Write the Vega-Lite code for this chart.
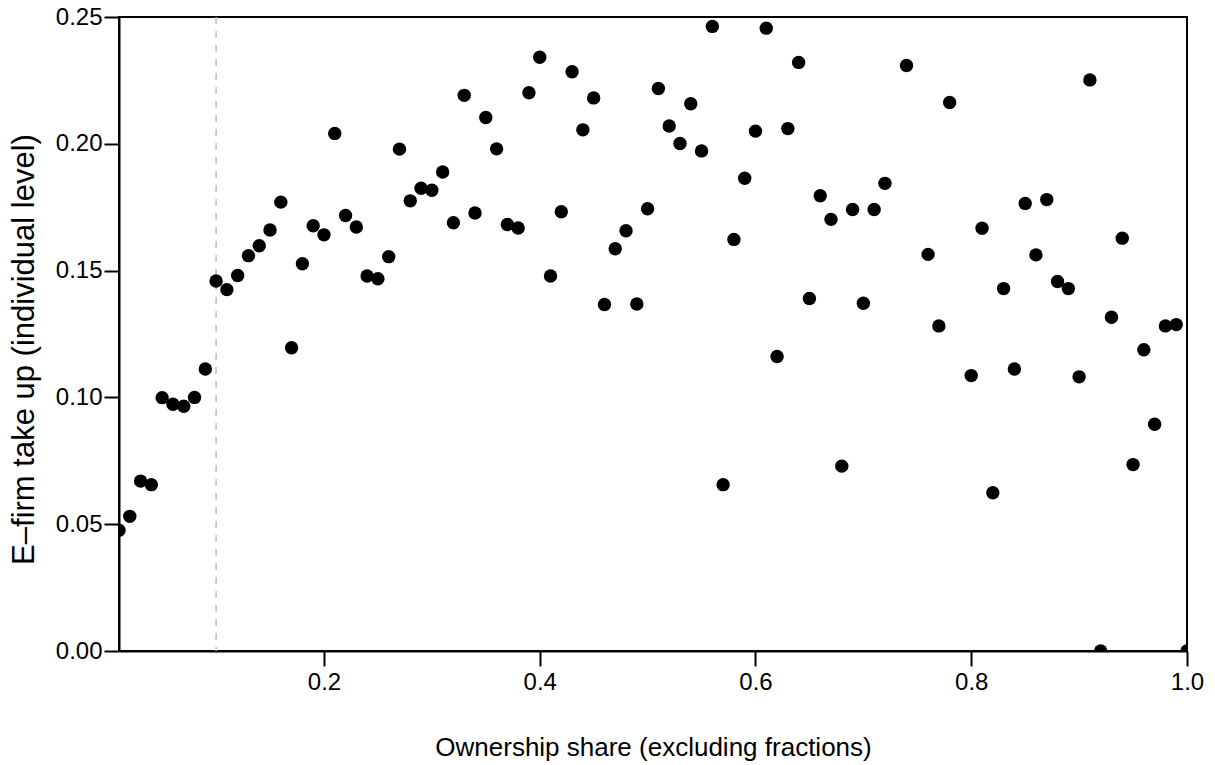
{
  "$schema": "https://vega.github.io/schema/vega-lite/v6.json",
  "width": 1068,
  "height": 634,
  "autosize": {"type": "none"},
  "padding": {"left": 119, "top": 17, "right": 28, "bottom": 114},
  "background": "white",
  "config": {
    "view": {"stroke": "black", "strokeWidth": 2},
    "font": "Liberation Sans",
    "axis": {
      "grid": false,
      "domainColor": "black",
      "domainWidth": 2,
      "tickColor": "black",
      "tickWidth": 2,
      "tickSize": 15,
      "labelFont": "Liberation Sans",
      "labelFontSize": 24,
      "labelColor": "black",
      "titleFont": "Liberation Sans",
      "titleFontSize": 26,
      "titleFontWeight": "normal",
      "titleColor": "black",
      "labelFlush": false,
      "labelOverlap": false
    }
  },
  "layer": [
    {
      "data": {"values": [{"cutoff": 0.1}]},
      "mark": {"type": "rule", "color": "#bebebe", "strokeWidth": 1.5, "strokeDash": [7, 7]},
      "encoding": {
        "x": {"field": "cutoff", "type": "quantitative", "scale": {"domain": [0.01, 1], "nice": false, "zero": false}}
      }
    },
    {
      "data": {"values": [
        {"share": 0.01, "takeup": 0.0476}, {"share": 0.02, "takeup": 0.0531}, {"share": 0.03, "takeup": 0.0670},
        {"share": 0.04, "takeup": 0.0656}, {"share": 0.05, "takeup": 0.0999}, {"share": 0.06, "takeup": 0.0973},
        {"share": 0.07, "takeup": 0.0965}, {"share": 0.08, "takeup": 0.1000}, {"share": 0.09, "takeup": 0.1112},
        {"share": 0.10, "takeup": 0.1459}, {"share": 0.11, "takeup": 0.1425}, {"share": 0.12, "takeup": 0.1481},
        {"share": 0.13, "takeup": 0.1559}, {"share": 0.14, "takeup": 0.1598}, {"share": 0.15, "takeup": 0.1660},
        {"share": 0.16, "takeup": 0.1770}, {"share": 0.17, "takeup": 0.1196}, {"share": 0.18, "takeup": 0.1527},
        {"share": 0.19, "takeup": 0.1677}, {"share": 0.20, "takeup": 0.1641}, {"share": 0.21, "takeup": 0.2041},
        {"share": 0.22, "takeup": 0.1717}, {"share": 0.23, "takeup": 0.1672}, {"share": 0.24, "takeup": 0.1479},
        {"share": 0.25, "takeup": 0.1468}, {"share": 0.26, "takeup": 0.1555}, {"share": 0.27, "takeup": 0.1979},
        {"share": 0.28, "takeup": 0.1775}, {"share": 0.29, "takeup": 0.1825}, {"share": 0.30, "takeup": 0.1817},
        {"share": 0.31, "takeup": 0.1889}, {"share": 0.32, "takeup": 0.1689}, {"share": 0.33, "takeup": 0.2191},
        {"share": 0.34, "takeup": 0.1727}, {"share": 0.35, "takeup": 0.2104}, {"share": 0.36, "takeup": 0.1980},
        {"share": 0.37, "takeup": 0.1682}, {"share": 0.38, "takeup": 0.1668}, {"share": 0.39, "takeup": 0.2201},
        {"share": 0.40, "takeup": 0.2341}, {"share": 0.41, "takeup": 0.1479}, {"share": 0.42, "takeup": 0.1732},
        {"share": 0.43, "takeup": 0.2284}, {"share": 0.44, "takeup": 0.2055}, {"share": 0.45, "takeup": 0.2181},
        {"share": 0.46, "takeup": 0.1366}, {"share": 0.47, "takeup": 0.1586}, {"share": 0.48, "takeup": 0.1657},
        {"share": 0.49, "takeup": 0.1368}, {"share": 0.50, "takeup": 0.1744}, {"share": 0.51, "takeup": 0.2218},
        {"share": 0.52, "takeup": 0.2070}, {"share": 0.53, "takeup": 0.2001}, {"share": 0.54, "takeup": 0.2158},
        {"share": 0.55, "takeup": 0.1972}, {"share": 0.56, "takeup": 0.2463}, {"share": 0.57, "takeup": 0.0656},
        {"share": 0.58, "takeup": 0.1623}, {"share": 0.59, "takeup": 0.1864}, {"share": 0.60, "takeup": 0.2050},
        {"share": 0.61, "takeup": 0.2456}, {"share": 0.62, "takeup": 0.1161}, {"share": 0.63, "takeup": 0.2060},
        {"share": 0.64, "takeup": 0.2321}, {"share": 0.65, "takeup": 0.1390}, {"share": 0.66, "takeup": 0.1795},
        {"share": 0.67, "takeup": 0.1702}, {"share": 0.68, "takeup": 0.0729}, {"share": 0.69, "takeup": 0.1741},
        {"share": 0.70, "takeup": 0.1371}, {"share": 0.71, "takeup": 0.1741}, {"share": 0.72, "takeup": 0.1844},
        {"share": 0.74, "takeup": 0.2309}, {"share": 0.76, "takeup": 0.1564}, {"share": 0.77, "takeup": 0.1282},
        {"share": 0.78, "takeup": 0.2163}, {"share": 0.80, "takeup": 0.1086}, {"share": 0.81, "takeup": 0.1667},
        {"share": 0.82, "takeup": 0.0624}, {"share": 0.83, "takeup": 0.1429}, {"share": 0.84, "takeup": 0.1112},
        {"share": 0.85, "takeup": 0.1765}, {"share": 0.86, "takeup": 0.1562}, {"share": 0.87, "takeup": 0.1780},
        {"share": 0.88, "takeup": 0.1457}, {"share": 0.89, "takeup": 0.1429}, {"share": 0.90, "takeup": 0.1081},
        {"share": 0.91, "takeup": 0.2252}, {"share": 0.92, "takeup": 0.0}, {"share": 0.93, "takeup": 0.1316},
        {"share": 0.94, "takeup": 0.1628}, {"share": 0.95, "takeup": 0.0735}, {"share": 0.96, "takeup": 0.1188},
        {"share": 0.97, "takeup": 0.0894}, {"share": 0.98, "takeup": 0.1282}, {"share": 0.99, "takeup": 0.1287},
        {"share": 1.00, "takeup": 0.0}
      ]},
      "mark": {"type": "point", "filled": true, "shape": "circle", "color": "black", "opacity": 1, "size": 180, "clip": true},
      "encoding": {
        "x": {
          "field": "share", "type": "quantitative",
          "scale": {"domain": [0.01, 1], "nice": false, "zero": false},
          "axis": {
            "title": "Ownership share (excluding fractions)",
            "values": [0.2, 0.4, 0.6, 0.8, 1.0],
            "format": ".1f",
            "labelPadding": 4,
            "titleY": 104,
            "titleBaseline": "alphabetic"
          }
        },
        "y": {
          "field": "takeup", "type": "quantitative",
          "scale": {"domain": [0, 0.25], "nice": false, "zero": false},
          "axis": {
            "title": "E\u2013firm take up (individual level)",
            "values": [0, 0.05, 0.1, 0.15, 0.2, 0.25],
            "format": ".2f",
            "labelPadding": 2,
            "titleFontSize": 31,
            "titleX": -86,
            "titleY": 332,
            "titleAngle": -90,
            "titleBaseline": "alphabetic"
          }
        }
      }
    }
  ]
}
